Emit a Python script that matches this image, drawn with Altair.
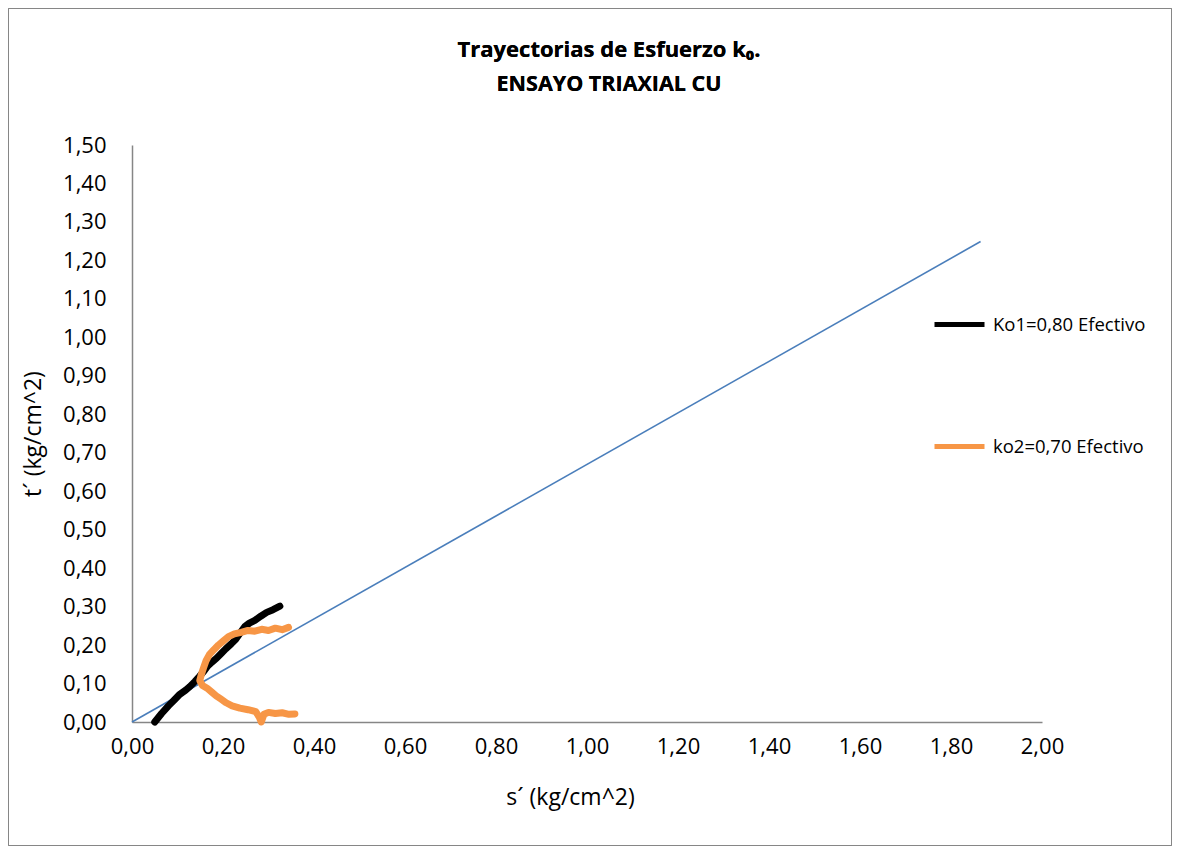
import altair as alt
import pandas as pd

# Series values
black_s = [0.050, 0.065, 0.080, 0.095, 0.105, 0.118, 0.127, 0.138, 0.148, 0.158, 0.166, 0.176,
           0.186, 0.196, 0.206, 0.218, 0.228, 0.238, 0.248, 0.258, 0.270, 0.283, 0.296, 0.310, 0.325]
black_t = [0.000, 0.022, 0.042, 0.060, 0.072, 0.083, 0.092, 0.105, 0.118, 0.132, 0.145, 0.156,
           0.166, 0.178, 0.190, 0.203, 0.215, 0.232, 0.248, 0.257, 0.264, 0.275, 0.285, 0.292, 0.301]

orange_s = [0.344, 0.330, 0.315, 0.300, 0.285, 0.270, 0.255, 0.240, 0.225, 0.212, 0.200, 0.190,
            0.180, 0.170, 0.163, 0.157, 0.152, 0.149, 0.155, 0.165, 0.175, 0.185, 0.195, 0.207,
            0.220, 0.237, 0.255, 0.272, 0.280, 0.284, 0.290, 0.300, 0.315, 0.330, 0.345, 0.358]
orange_t = [0.246, 0.240, 0.244, 0.238, 0.241, 0.236, 0.238, 0.233, 0.229, 0.222, 0.210, 0.200,
            0.188, 0.175, 0.160, 0.140, 0.122, 0.108, 0.095, 0.088, 0.078, 0.068, 0.060, 0.050,
            0.042, 0.036, 0.032, 0.027, 0.012, 0.000, 0.020, 0.025, 0.022, 0.024, 0.020, 0.021]

envelope_s = [0.0, 1.865]
envelope_t = [0.0, 1.249]

series_names = ["Ko1=0,80 Efectivo", "ko2=0,70 Efectivo"]
series_colors = ["#000000", "#f79646"]

title_lines = ["Trayectorias de Esfuerzo k₀.", "ENSAYO TRIAXIAL CU"]

x_ticks = [0.0, 0.2, 0.4, 0.6, 0.8, 1.0, 1.2, 1.4, 1.6, 1.8, 2.0]
y_ticks = [0.0, 0.1, 0.2, 0.3, 0.4, 0.5, 0.6, 0.7, 0.8, 0.9, 1.0, 1.1, 1.2, 1.3, 1.4, 1.5]

FONT = "Open Sans"

paths = pd.concat([
    pd.DataFrame({"s": black_s, "t": black_t, "serie": series_names[0],
                  "i": range(len(black_s))}),
    pd.DataFrame({"s": orange_s, "t": orange_t, "serie": series_names[1],
                  "i": range(len(orange_s))}),
])
env = pd.DataFrame({"s": envelope_s, "t": envelope_t, "i": [0, 1]})

lbl = "replace(format(datum.value, '.2f'), '.', ',')"

xscale = alt.Scale(domain=[0, 2], nice=False, zero=True)
yscale = alt.Scale(domain=[0, 1.5], nice=False, zero=True)

common = dict(labelExpr=lbl, grid=False, ticks=False, domainColor="#868686", domainWidth=1.5,
              labelFontSize=22, labelFont=FONT, labelColor="#000", labelFlush=False,
              labelOverlap=False, labelBound=False, titleFontSize=23, titleFont=FONT,
              titleFontWeight="normal", titleColor="#000")

xaxis = alt.Axis(values=x_ticks, labelPadding=14, title="s´ (kg/cm^2)", titlePadding=29,
                 titleX=438, **common)
yaxis = alt.Axis(values=y_ticks, labelPadding=26, title="t´ (kg/cm^2)", titlePadding=17, **common)

envelope = alt.Chart(env).mark_line(color="#4a7ebb", strokeWidth=1.6).encode(
    x=alt.X("s:Q", scale=xscale, axis=xaxis),
    y=alt.Y("t:Q", scale=yscale, axis=yaxis),
    order="i:Q",
)

lines = alt.Chart(paths).mark_line(strokeWidth=7, strokeCap="round", strokeJoin="round").encode(
    x=alt.X("s:Q", scale=xscale, axis=xaxis),
    y=alt.Y("t:Q", scale=yscale, axis=yaxis),
    order="i:Q",
    color=alt.Color("serie:N", scale=alt.Scale(domain=series_names, range=series_colors),
                    legend=alt.Legend(title=None, orient="none", legendX=800, legendY=152,
                                      symbolType="stroke", symbolSize=2500,
                                      symbolStrokeWidth=5, rowPadding=84,
                                      labelFontSize=18.5, labelFont=FONT, labelColor="#000",
                                      labelOffset=6)),
)

frame = alt.Chart(env).mark_rect(fill=None, stroke="#868686", strokeWidth=1).encode(
    x=alt.value(-123.5), x2=alt.value(1039.5), y=alt.value(-136.5), y2=alt.value(700.5)
)

title1 = alt.Chart(env).mark_text(font=FONT, fontSize=22, fontWeight="bold", color="#000",
                                   align="center", baseline="middle").encode(
    x=alt.value(477), y=alt.value(-95), text=alt.value(title_lines[0])
)
title2 = alt.Chart(env).mark_text(font=FONT, fontSize=21.5, fontWeight="bold", color="#000",
                                   align="center", baseline="middle").encode(
    x=alt.value(477), y=alt.value(-60), text=alt.value(title_lines[1])
)

chart = alt.layer(frame, envelope, lines, title1, title2).properties(
    width=910, height=577,
    padding={"left": 124, "top": 137, "right": 130, "bottom": 124},
    autosize=alt.AutoSizeParams(type="none"),
).configure_view(stroke=None).configure_axis(labelOverlap=False)

chart.save("out.html", embed_options={"renderer": "svg", "actions": False})
